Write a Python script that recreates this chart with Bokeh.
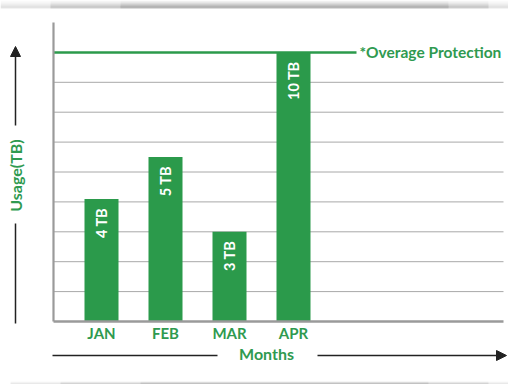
from math import pi
from bokeh.plotting import figure
from bokeh.models import Range1d, ColumnDataSource, Label, Arrow, NormalHead
from bokeh.embed import file_html
from bokeh.resources import INLINE

months = ["JAN", "FEB", "MAR", "APR"]
positions = [1, 2, 3, 4]
bar_heights = [4.1, 5.5, 3.0, 9.0]
bar_labels = ["4 TB", "5 TB", "3 TB", "10 TB"]
grid_levels = [1, 2, 3, 4, 5, 6, 7, 8]
overage_level = 9
overage_text = "*Overage Protection"
x_title = "Months"
y_title = "Usage(TB)"

GREEN = "#2b9a4b"
TEXT_GREEN = "#2f9a50"
AXIS_GRAY = "#9a9a9a"
GRID_GRAY = "#a8a8a8"
LINE = "#222222"
FONT = "Lato"

# ---- layout: the frame fills the whole canvas; the plotting area sits inside it
W, H = 508, 384
LEFT_PX, RIGHT_PX, TOP_PX, BASE_PX = 53, 503, 22, 321
PX_PER_X = 64.0
PX_PER_Y = (BASE_PX - TOP_PX) / 10.0
X_AXIS = positions[0] - 0.75        # where the y axis stands (data units)


def px2x(px):
    return X_AXIS + (px - LEFT_PX) / PX_PER_X


def py2y(py):
    return (BASE_PX - py) / PX_PER_Y


X_START, X_END = px2x(0), px2x(W)
Y_START, Y_END = py2y(H), py2y(0)
X_RIGHT = px2x(RIGHT_PX)
Y_TOP = py2y(TOP_PX)

src = ColumnDataSource(dict(x=positions, top=bar_heights, lab=bar_labels))

p = figure(width=W, height=H, x_range=Range1d(X_START, X_END),
           y_range=Range1d(Y_START, Y_END),
           output_backend="svg", toolbar_location=None,
           min_border=0, min_border_left=0, min_border_right=0,
           min_border_top=0, min_border_bottom=0)
p.axis.visible = False
p.grid.visible = False
p.outline_line_color = None
p.background_fill_color = "white"
p.border_fill_color = "white"

# ---- card shadows (decoration)
for i, a in enumerate([0.05, 0.08, 0.12, 0.17, 0.23, 0.30, 0.38, 0.30]):
    yy = py2y(i + 0.5)
    for lo, hi in [(0, W), (50, W - 20), (120, W - 60)]:
        p.segment(x0=[px2x(lo)], y0=[yy], x1=[px2x(hi)], y1=[yy],
                  line_color="black", line_alpha=a / 3, line_width=1)
for i, a in enumerate([0.08, 0.22, 0.32]):
    yy = py2y(381 + i + 0.5)
    for lo, hi in [(10, W), (60, W - 20), (140, W - 80)]:
        p.segment(x0=[px2x(lo)], y0=[yy], x1=[px2x(hi)], y1=[yy],
                  line_color="black", line_alpha=a / 3, line_width=1)

# ---- grid lines
p.segment(x0=[X_AXIS] * len(grid_levels), y0=grid_levels,
          x1=[X_RIGHT] * len(grid_levels), y1=grid_levels,
          line_color=GRID_GRAY, line_width=1)

# ---- overage line and label
OVER_END = px2x(356)
p.segment(x0=[X_AXIS], y0=[overage_level], x1=[OVER_END], y1=[overage_level],
          line_color=GREEN, line_width=2.5)
p.add_layout(Label(x=OVER_END, y=overage_level, text=overage_text, x_offset=3,
                   text_baseline="middle", text_color=TEXT_GREEN, text_font=FONT,
                   text_font_style="bold", text_font_size="15.5px"))

# ---- bars
p.vbar(x="x", top="top", width=34 / PX_PER_X, source=src,
       fill_color=GREEN, line_color=None)
p.text(x="x", y="top", text="lab", source=src, angle=pi / 2, y_offset=9,
       text_align="right", text_baseline="middle", text_color="white",
       text_font={"value": FONT}, text_font_style="bold", text_font_size="14.5px")

# ---- axis lines
p.segment(x0=[X_AXIS], y0=[0], x1=[X_AXIS], y1=[Y_TOP], line_color=AXIS_GRAY, line_width=2.2)
p.segment(x0=[X_AXIS], y0=[0], x1=[X_RIGHT], y1=[0], line_color=AXIS_GRAY, line_width=2.5)

# ---- month labels
p.text(x=positions, y=[py2y(332)] * len(positions), text=months,
       text_align="center", text_baseline="middle", text_color=TEXT_GREEN,
       text_font={"value": FONT}, text_font_style="bold", text_font_size="15px")

# ---- axis titles
AX_T = px2x(15)
p.add_layout(Label(x=AX_T, y=py2y(175), text=y_title,
                   angle=pi / 2, text_align="center", text_baseline="middle",
                   text_color=TEXT_GREEN, text_font=FONT, text_font_style="bold",
                   text_font_size="16px"))
p.add_layout(Label(x=px2x(266), y=py2y(353), text=x_title,
                   text_align="center", text_baseline="middle",
                   text_color=TEXT_GREEN, text_font=FONT, text_font_style="bold",
                   text_font_size="16px"))

# ---- arrows
p.add_layout(Arrow(x_start=AX_T, y_start=py2y(125), x_end=AX_T, y_end=py2y(46),
                   line_color=LINE, line_width=1.5,
                   end=NormalHead(size=10, fill_color=LINE, line_color=LINE)))
p.segment(x0=[AX_T], y0=[py2y(223)], x1=[AX_T], y1=[py2y(323)],
          line_color=LINE, line_width=1.5)
Y_ARR = py2y(355)
p.segment(x0=[px2x(52)], y0=[Y_ARR], x1=[px2x(217)], y1=[Y_ARR],
          line_color=LINE, line_width=1.5)
p.add_layout(Arrow(x_start=px2x(317), y_start=Y_ARR, x_end=px2x(506), y_end=Y_ARR,
                   line_color=LINE, line_width=1.5,
                   end=NormalHead(size=10, fill_color=LINE, line_color=LINE)))

open("out.html", "w").write(file_html(p, INLINE))
